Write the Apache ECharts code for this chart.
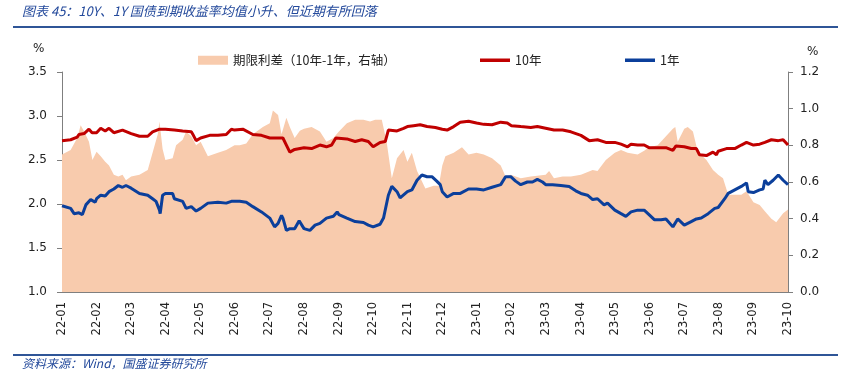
<!DOCTYPE html>
<html><head><meta charset="utf-8">
<script src="https://cdn.jsdelivr.net/npm/echarts@6/dist/echarts.min.js"></script>
<style>html,body{margin:0;padding:0;background:#fff}#c{width:843px;height:381px}</style>
</head><body><div id="c"></div>
<script>
// month ticks (x position = months since 2022-01)
const monthLabels = ['22-01','22-02','22-03','22-04','22-05','22-06','22-07','22-08','22-09','22-10','22-11','22-12','23-01','23-02','23-03','23-04','23-05','23-06','23-07','23-08','23-09','23-10'];

// 10Y yield (%)
const tenYMonths = [0,0.25,0.44,0.49,0.64,0.78,0.87,1.00,1.12,1.25,1.36,1.50,1.75,2.00,2.24,2.48,2.62,2.82,2.99,3.25,3.49,3.74,3.80,3.88,4.01,4.27,4.51,4.75,4.90,4.99,5.23,5.52,5.77,6.01,6.25,6.39,6.49,6.59,6.73,7.00,7.22,7.46,7.65,7.80,7.92,8.24,8.48,8.67,8.86,9.00,9.20,9.35,9.44,9.69,9.88,9.99,10.17,10.36,10.56,10.80,11.00,11.14,11.33,11.52,11.76,11.99,12.20,12.44,12.69,12.88,13.00,13.27,13.56,13.75,13.99,14.23,14.48,14.72,15.01,15.25,15.49,15.73,15.99,16.17,16.36,16.46,16.65,16.84,16.98,17.23,17.47,17.67,17.76,18.00,18.20,18.35,18.44,18.64,18.83,18.93,18.98,19.22,19.46,19.65,19.80,20.00,20.18,20.33,20.52,20.72,20.86,21.00];
const tenYValues = [2.72,2.73,2.76,2.79,2.80,2.85,2.81,2.81,2.86,2.83,2.86,2.81,2.84,2.80,2.77,2.77,2.82,2.85,2.85,2.84,2.83,2.82,2.78,2.72,2.75,2.78,2.78,2.79,2.85,2.84,2.85,2.79,2.78,2.75,2.75,2.75,2.67,2.59,2.62,2.64,2.63,2.67,2.65,2.67,2.75,2.74,2.71,2.73,2.71,2.65,2.70,2.71,2.84,2.83,2.86,2.88,2.89,2.90,2.88,2.87,2.85,2.84,2.88,2.93,2.94,2.92,2.905,2.90,2.93,2.92,2.89,2.88,2.87,2.88,2.86,2.84,2.84,2.82,2.78,2.72,2.73,2.70,2.70,2.68,2.65,2.68,2.67,2.67,2.64,2.64,2.64,2.61,2.66,2.65,2.63,2.63,2.56,2.55,2.59,2.56,2.60,2.63,2.63,2.67,2.70,2.67,2.68,2.70,2.73,2.72,2.73,2.67];

// 1Y yield (%)
const oneYMonths = [0,0.25,0.35,0.49,0.59,0.69,0.83,0.96,1.00,1.12,1.25,1.36,1.50,1.63,1.75,1.85,2.00,2.24,2.48,2.62,2.72,2.82,2.84,2.91,2.99,3.20,3.25,3.49,3.59,3.74,3.88,4.01,4.22,4.51,4.75,4.90,5.14,5.33,5.52,5.77,6.01,6.15,6.25,6.35,6.39,6.49,6.59,6.73,6.86,7.00,7.17,7.32,7.46,7.65,7.85,7.96,8.01,8.24,8.48,8.72,8.86,9.00,9.20,9.30,9.44,9.54,9.69,9.78,9.99,10.12,10.27,10.41,10.56,10.70,10.84,10.94,11.00,11.14,11.33,11.52,11.76,11.99,12.20,12.44,12.69,12.83,12.98,13.12,13.27,13.46,13.61,13.75,13.90,13.99,14.19,14.43,14.67,14.86,15.01,15.20,15.35,15.49,15.68,15.78,15.99,16.17,16.31,16.46,16.65,16.84,16.98,17.14,17.33,17.47,17.67,17.81,18.00,18.20,18.35,18.49,18.69,18.88,18.98,19.17,19.27,19.46,19.65,19.80,19.85,20.00,20.18,20.28,20.33,20.42,20.57,20.72,20.86,21.00];
const oneYValues = [1.98,1.95,1.89,1.90,1.88,1.99,2.05,2.02,2.06,2.10,2.09,2.14,2.17,2.21,2.19,2.21,2.18,2.12,2.10,2.06,2.03,1.93,1.89,2.10,2.12,2.12,2.06,2.03,1.95,1.97,1.92,1.95,2.01,2.02,2.01,2.03,2.03,2.02,1.97,1.91,1.84,1.74,1.78,1.87,1.84,1.70,1.72,1.72,1.81,1.72,1.70,1.76,1.78,1.84,1.86,1.91,1.88,1.84,1.80,1.79,1.76,1.74,1.77,1.84,2.10,2.20,2.14,2.07,2.14,2.16,2.27,2.33,2.31,2.31,2.26,2.22,2.14,2.08,2.12,2.12,2.17,2.17,2.16,2.19,2.22,2.31,2.31,2.26,2.22,2.25,2.25,2.28,2.25,2.22,2.22,2.21,2.20,2.15,2.12,2.10,2.05,2.06,1.99,2.01,1.93,1.89,1.86,1.91,1.93,1.93,1.88,1.82,1.82,1.83,1.74,1.83,1.76,1.80,1.83,1.84,1.89,1.95,1.96,2.06,2.12,2.16,2.20,2.24,2.14,2.13,2.16,2.17,2.27,2.22,2.27,2.33,2.27,2.22];

// term spread 10Y-1Y (%, right axis)
const spreadMonths = [0,0.25,0.44,0.54,0.64,0.78,0.88,1.00,1.12,1.25,1.36,1.50,1.63,1.75,1.85,2.00,2.24,2.48,2.62,2.77,2.82,2.91,2.99,3.20,3.30,3.49,3.59,3.74,3.88,4.01,4.22,4.51,4.75,4.99,5.14,5.33,5.52,5.81,6.01,6.10,6.25,6.35,6.49,6.59,6.73,6.88,7.00,7.22,7.46,7.65,7.85,8.01,8.24,8.48,8.72,8.91,9.06,9.25,9.39,9.54,9.69,9.88,9.99,10.12,10.27,10.51,10.75,10.90,11.00,11.09,11.33,11.57,11.76,11.99,12.20,12.44,12.69,12.83,12.98,13.27,13.56,13.99,14.09,14.23,14.48,14.72,15.01,15.35,15.49,15.73,15.99,16.17,16.36,16.65,16.84,16.98,17.23,17.47,17.67,17.74,17.81,18.00,18.10,18.25,18.39,18.64,18.83,18.98,19.12,19.27,19.46,19.65,19.80,20.00,20.18,20.33,20.52,20.66,20.86,21.00];
const spreadValues = [0.75,0.775,0.84,0.91,0.875,0.82,0.72,0.765,0.74,0.71,0.69,0.64,0.63,0.64,0.61,0.63,0.64,0.665,0.76,0.86,0.93,0.78,0.72,0.73,0.80,0.83,0.875,0.85,0.80,0.82,0.74,0.76,0.775,0.80,0.80,0.81,0.86,0.90,0.92,0.99,0.965,0.86,0.95,0.90,0.84,0.88,0.89,0.90,0.875,0.82,0.84,0.875,0.92,0.94,0.94,0.93,0.94,0.94,0.82,0.62,0.73,0.775,0.71,0.76,0.66,0.565,0.58,0.58,0.69,0.74,0.76,0.79,0.75,0.76,0.75,0.73,0.69,0.63,0.64,0.62,0.63,0.64,0.66,0.62,0.63,0.63,0.64,0.665,0.66,0.72,0.76,0.775,0.76,0.75,0.77,0.79,0.80,0.85,0.89,0.90,0.82,0.89,0.90,0.875,0.765,0.72,0.665,0.64,0.62,0.53,0.53,0.53,0.55,0.49,0.475,0.44,0.40,0.38,0.43,0.45];

const seriesNames = ['期限利差（10年-1年，右轴）','10年','1年'];
const titleText = '图表 45：10Y、1Y 国债到期收益率均值小升、但近期有所回落';
const sourceText = '资料来源：Wind，国盛证券研究所';

function pairs(xs, ys){ const n=Math.min(xs.length, ys.length); const out=[]; for(let i=0;i<n;i++) out.push([xs[i], ys[i]]); return out; }

const chart = echarts.init(document.getElementById('c'), null, {renderer:'canvas'});
const cjk = '"Noto Sans CJK SC", sans-serif';
const num = '"DejaVu Sans", sans-serif';
const axisCol = '#7f7f7f';
chart.setOption({
  animation:false,
  backgroundColor:'#fff',
  grid:{left:62, right:55, top:72, bottom:89, containLabel:false},
  legend:[
    {data:[seriesNames[0]], left:193, top:49, itemWidth:30, itemHeight:9, icon:'rect', itemGap:4,
     textStyle:{fontFamily:cjk, fontSize:12.5, color:'#222'}},
    {data:[seriesNames[1]], left:475, top:49, itemWidth:30, itemHeight:3.5, icon:'rect',
     textStyle:{fontFamily:cjk, fontSize:12.5, color:'#222'}},
    {data:[seriesNames[2]], left:620, top:49, itemWidth:30, itemHeight:3.5, icon:'rect',
     textStyle:{fontFamily:cjk, fontSize:12.5, color:'#222'}}
  ],
  xAxis:{type:'value', min:0, max:21, interval:1,
    axisLine:{show:true, onZero:false, lineStyle:{color:axisCol, width:1}},
    axisTick:{show:false}, splitLine:{show:false},
    axisLabel:{rotate:90, margin:10, fontFamily:num, fontSize:11.5, color:'#222',
      formatter:(v)=> monthLabels[Math.round(v)] || ''}},
  yAxis:[
    {type:'value', min:1.0, max:3.5, interval:0.5, position:'left',
     axisLine:{show:true, lineStyle:{color:axisCol}}, axisTick:{show:true, length:5, lineStyle:{color:axisCol}},
     splitLine:{show:false},
     axisLabel:{margin:15, fontFamily:num, fontSize:12, color:'#222', formatter:(v)=>v.toFixed(1)}},
    {type:'value', min:0, max:1.2, interval:0.2, position:'right',
     axisLine:{show:true, lineStyle:{color:axisCol}}, axisTick:{show:true, length:5, lineStyle:{color:axisCol}},
     splitLine:{show:false},
     axisLabel:{margin:12, fontFamily:num, fontSize:12, color:'#222', formatter:(v)=>v.toFixed(1)}}
  ],
  series:[
    {name:seriesNames[0], type:'line', yAxisIndex:1, data:pairs(spreadMonths, spreadValues),
     showSymbol:false, symbol:'none', lineStyle:{width:0, color:'#F8CBAD'}, itemStyle:{color:'#F8CBAD'},
     areaStyle:{color:'#F8CBAD', opacity:1}, z:1},
    {name:seriesNames[1], type:'line', yAxisIndex:0, data:pairs(tenYMonths, tenYValues),
     showSymbol:false, symbol:'none', lineStyle:{width:3, color:'#C00000'}, itemStyle:{color:'#C00000'}, z:3},
    {name:seriesNames[2], type:'line', yAxisIndex:0, data:pairs(oneYMonths, oneYValues),
     showSymbol:false, symbol:'none', lineStyle:{width:3, color:'#0B3F9B'}, itemStyle:{color:'#0B3F9B'}, z:3}
  ],
  graphic:[
    {type:'text', left:22, top:5, style:{text:titleText, fontFamily:cjk, fontSize:13, fontStyle:'italic', fill:'#23499B'}},
    {type:'line', shape:{x1:13, y1:27, x2:838, y2:27}, style:{stroke:'#2F5597', lineWidth:2}},
    {type:'text', left:33, top:43, style:{text:'%', fontFamily:num, fontSize:12, fill:'#222'}},
    {type:'text', left:807, top:46, style:{text:'%', fontFamily:num, fontSize:12, fill:'#222'}},
    {type:'line', shape:{x1:13, y1:355, x2:838, y2:355}, style:{stroke:'#2F5597', lineWidth:2}},
    {type:'text', left:22, top:357, style:{text:sourceText, fontFamily:cjk, fontSize:12, fontStyle:'italic', fill:'#23499B'}}
  ]
});
</script></body></html>
